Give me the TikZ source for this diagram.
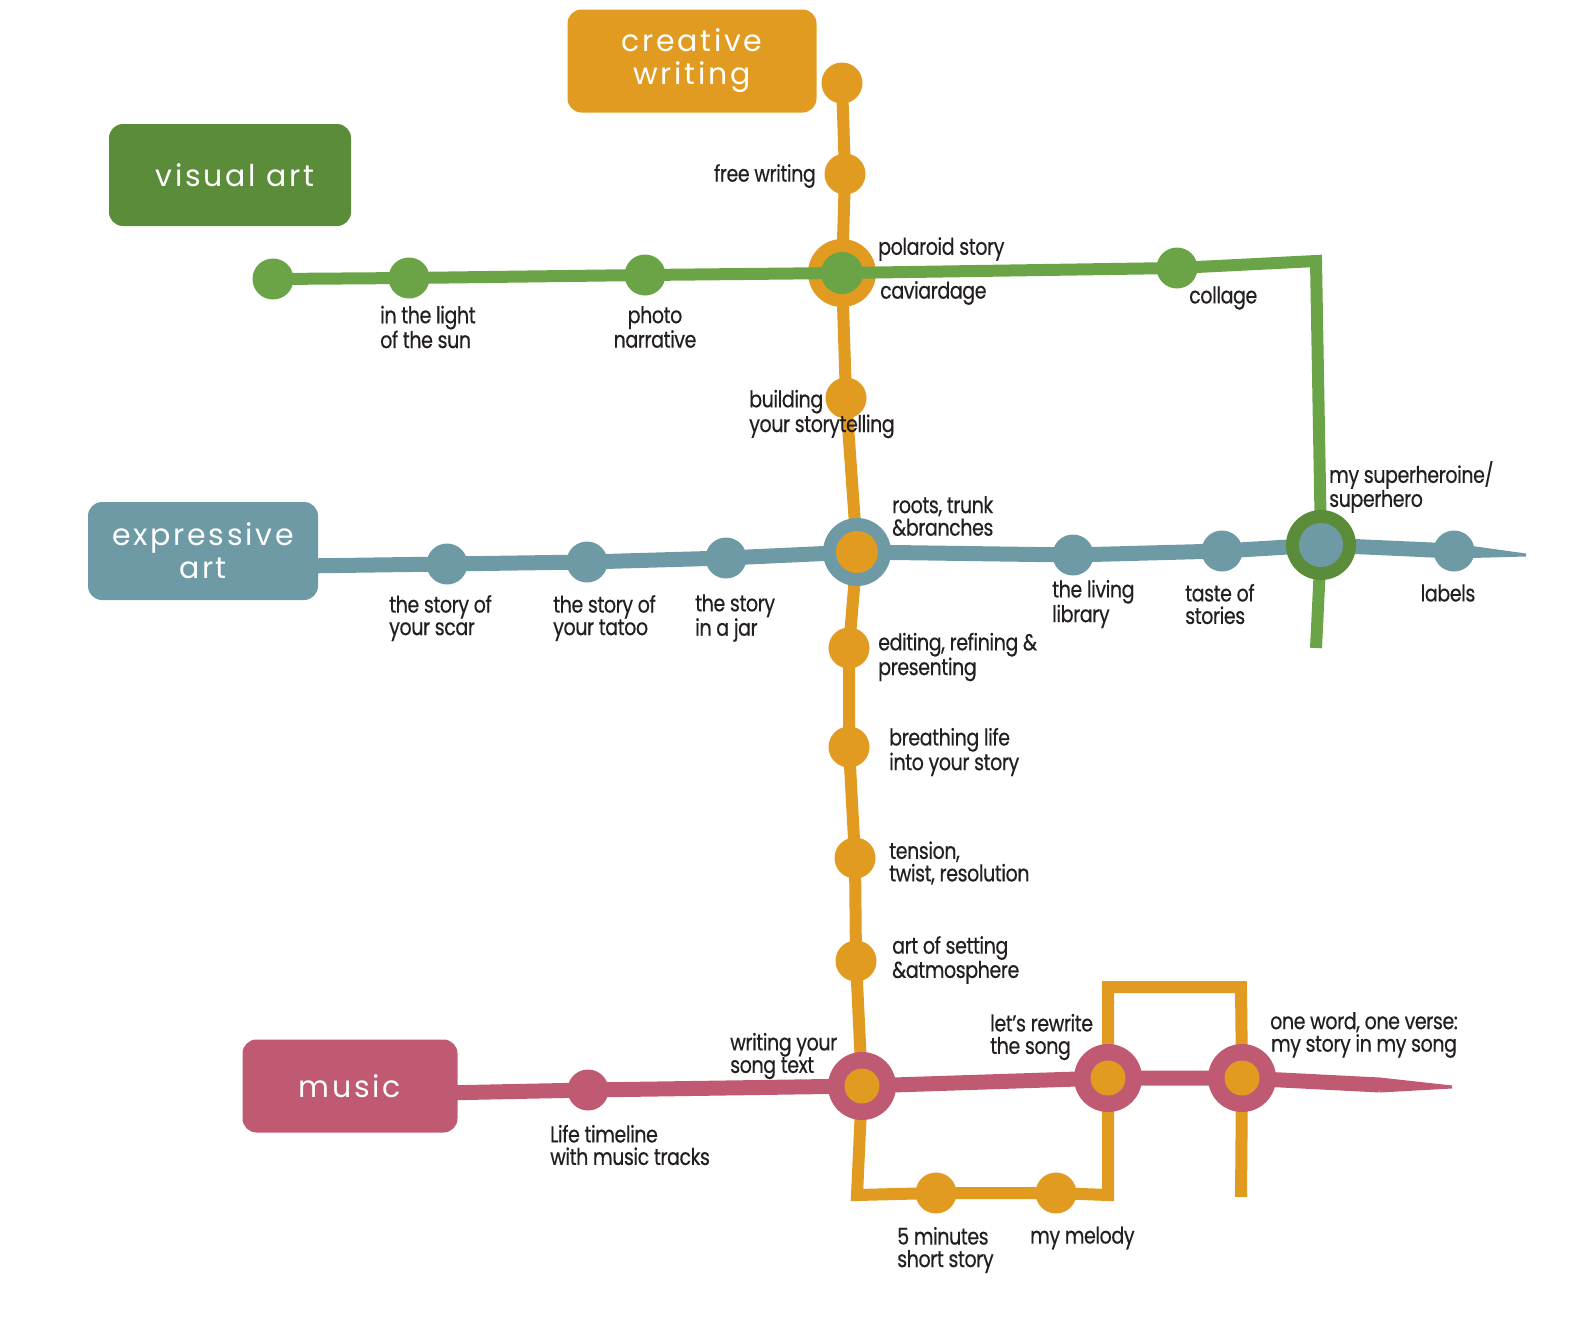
\documentclass[tikz,border=0pt]{standalone}
\usepackage{fontspec}
\setmainfont{Poppins}
\newfontfamily\labfont[FakeStretch=0.83,LetterSpace=-2,FakeBold=0.4]{Poppins}
\newfontfamily\titlefont[LetterSpace=9]{Poppins}
\usetikzlibrary{calc}
\definecolor{cw}{HTML}{E09B20}
\definecolor{vl}{HTML}{6AA446}
\definecolor{vd}{HTML}{5B8C3A}
\definecolor{ea}{HTML}{6E9AA6}
\definecolor{mu}{HTML}{C05A73}
\definecolor{txt}{HTML}{231F20}
\begin{document}
\begin{tikzpicture}[x=1pt,y=-1pt,
  lab/.style={font=\labfont\fontsize{23}{22.5}\selectfont, text=txt, align=left, inner sep=0pt, yshift=-3pt},
  titlebox/.style={fill=#1, rounded corners=14pt, text=white, align=center,
     font=\titlefont\fontsize{30}{33}\selectfont, inner sep=0pt},
  stop/.style={circle, fill=#1, minimum size=41pt, inner sep=0pt},
  ring/.style={circle, fill=#1, minimum size=68pt, inner sep=0pt},
  core/.style={circle, fill=#1, minimum size=42pt, inner sep=0pt},
  mcore/.style={circle, fill=#1, minimum size=35pt, inner sep=0pt},
  cwline/.style={draw=cw, line width=12pt, line join=miter},
  vline/.style={draw=vl, line width=12pt, line join=miter},
  eline/.style={draw=ea, line width=15pt},
  mline/.style={draw=mu, line width=15pt}]
\useasboundingbox (0,0) rectangle (1587,1320);

% ---- coordinates of stations
\coordinate (o0) at (842,83);
\coordinate (o1) at (845,174);
\coordinate (vi) at (842,273);
\coordinate (o2) at (846,398);
\coordinate (ei) at (857,552);
\coordinate (o3) at (849,648);
\coordinate (o4) at (849,747);
\coordinate (o5) at (855,858);
\coordinate (o6) at (856,961);
\coordinate (mi1) at (862,1086);
\coordinate (c1) at (857,1195);
\coordinate (o7) at (936,1193);
\coordinate (o8) at (1056,1193);
\coordinate (c2) at (1108,1195);
\coordinate (mi2) at (1108,1078);
\coordinate (c3) at (1108,987);
\coordinate (c4) at (1241,987);
\coordinate (mi3) at (1242,1078);
\coordinate (c5) at (1241,1197);

\coordinate (g0) at (273,279);
\coordinate (g1) at (409,278);
\coordinate (g2) at (645,275);
\coordinate (g3) at (1177,268);
\coordinate (gc) at (1316,261);
\coordinate (si) at (1321,545);
\coordinate (gend) at (1316,648);

\coordinate (b0) at (300,566);
\coordinate (b1) at (447,564);
\coordinate (b2) at (587,562);
\coordinate (b3) at (726,558);
\coordinate (b4) at (1073,555);
\coordinate (b5) at (1222,551);
\coordinate (b6) at (1454,551);
\coordinate (bend) at (1526,555);

\coordinate (p0) at (440,1093);
\coordinate (p1) at (588,1090);
\coordinate (pt) at (1380,1085);
\coordinate (pend) at (1452,1087);

% ---- lines
\draw[cwline] (o0) -- (o1) -- (vi) -- (o2) -- (ei) -- (o3) -- (o4) -- (o5) -- (o6) -- (mi1) -- (c1) -- (o7) -- (o8) -- (c2) -- (mi2) -- (c3) -- (c4) -- (mi3) -- (c5);
\draw[eline] (b0) -- (b1) -- (b2) -- (b3) -- (ei) -- (b4) -- (b5) -- (si) -- (b6);
\fill[ea] ($(b6)+(0,-7.5)$) -- ($(bend)+(0,-1.5)$) -- ($(bend)+(0,1.5)$) -- ($(b6)+(0,7.5)$) -- cycle;
\draw[mline] (p0) -- (p1) -- (mi1) -- (mi2) -- (mi3) -- (pt);
\fill[mu] ($(pt)+(0,-7.5)$) -- ($(pend)+(0,-1.5)$) -- ($(pend)+(0,1.5)$) -- ($(pt)+(0,7.5)$) -- cycle;

% ---- title boxes
\node[titlebox=cw, minimum width=249pt, minimum height=103pt] (cwbox) at (692,61) {creative\\writing};
\node[titlebox=vd, minimum width=242pt, minimum height=102pt] (vabox) at (230,175) {\hspace*{10pt}visual art};
\node[titlebox=ea, minimum width=230pt, minimum height=98pt] (eabox) at (203,551) {expressive\\art};
\node[titlebox=mu, minimum width=215pt, minimum height=93pt] (mubox) at (350,1086) {music};

% orange ring under the green line
\node[ring=cw] (viring) at (vi) {};
\draw[vline] (g0) -- (g1) -- (g2) -- (vi) -- (g3) -- (gc) -- (si) -- (gend);

% ---- stations
\node[stop=cw] (s-o0) at (o0) {};
\node[stop=cw] (s-o1) at (o1) {};
\node[core=vl] (s-vi) at (vi) {};
\node[stop=cw] (s-o2) at (o2) {};
\node[ring=ea] (s-ei) at (ei) {};
\node[core=cw] at (ei) {};
\node[stop=cw] (s-o3) at (o3) {};
\node[stop=cw] (s-o4) at (o4) {};
\node[stop=cw] (s-o5) at (o5) {};
\node[stop=cw] (s-o6) at (o6) {};
\node[stop=cw] (s-o7) at (o7) {};
\node[stop=cw] (s-o8) at (o8) {};
\node[ring=mu] (s-mi1) at (mi1) {};
\node[mcore=cw] at (mi1) {};
\node[ring=mu] (s-mi2) at (mi2) {};
\node[mcore=cw] at (mi2) {};
\node[ring=mu] (s-mi3) at (mi3) {};
\node[mcore=cw] at (mi3) {};

\node[stop=vl] (s-g0) at (g0) {};
\node[stop=vl] (s-g1) at (g1) {};
\node[stop=vl] (s-g2) at (g2) {};
\node[stop=vl] (s-g3) at (g3) {};
\node[ring=vd, minimum size=70pt] (s-si) at (si) {};
\node[core=ea, minimum size=44pt] at (si) {};

\node[stop=ea] (s-b1) at (b1) {};
\node[stop=ea] (s-b2) at (b2) {};
\node[stop=ea] (s-b3) at (b3) {};
\node[stop=ea] (s-b4) at (b4) {};
\node[stop=ea] (s-b5) at (b5) {};
\node[stop=ea] (s-b6) at (b6) {};
\node[stop=mu] (s-p1) at (p1) {};

% ---- labels
\node[lab, anchor=east] (l-free) at (816,173) {free writing};
\node[lab, anchor=west] (l-pol) at (878,246) {polaroid story};
\node[lab, anchor=west] (l-cav) at (880,290) {caviardage};
\node[lab, anchor=west] (l-col) at (1189,295) {collage};
\node[lab, anchor=west] (l-light) at (380,324) {in the light\\of the sun};
\node[lab, align=center] (l-photo) at (655,324) {photo\\narrative};
\node[lab, anchor=west] (l-build) at (749,411) {building\\your storytelling};
\node[lab, anchor=west] (l-roots) at (892,513) {roots, trunk\\\&branches};
\node[lab, anchor=west] (l-scar) at (389,615) {the story of\\your scar};
\node[lab, anchor=west] (l-tatoo) at (553,615) {the story of\\your tatoo};
\node[lab, anchor=west] (l-jar) at (695,615) {the story\\in a jar};
\node[lab, anchor=west] (l-living) at (1052,601) {the living\\library};
\node[lab, anchor=west] (l-taste) at (1185,601) {taste of\\stories};
\node[lab, anchor=west] (l-super) at (1329,484) {my superheroine/\\superhero};
\node[lab] (l-labels) at (1448,590) {labels};
\node[lab, anchor=west] (l-edit) at (878,654) {editing, refining \&\\presenting};
\node[lab, anchor=west] (l-breath) at (889,749) {breathing life\\into your story};
\node[lab, anchor=west] (l-tension) at (889,860) {tension,\\twist, resolution};
\node[lab, anchor=west] (l-art) at (892,957) {art of setting\\\&atmosphere};
\node[lab, anchor=west] (l-song) at (730,1053) {writing your\\song text};
\node[lab, anchor=west] (l-rewrite) at (990,1034) {let’s rewrite\\the song};
\node[lab, align=center] (l-one) at (1364,1032) {one word, one verse:\\my story in my song};
\node[lab, anchor=west] (l-life) at (550,1142) {Life timeline\\with music tracks};
\node[lab, anchor=west] (l-five) at (897,1247) {5 minutes\\short story};
\node[lab, anchor=west] (l-melody) at (1030,1235) {my melody};
\end{tikzpicture}
\end{document}
